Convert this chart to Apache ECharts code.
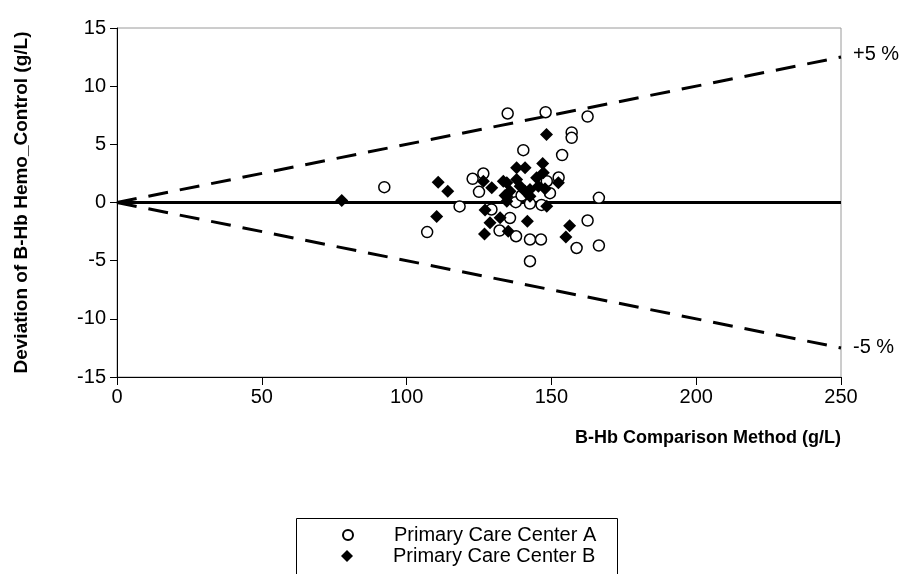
<!DOCTYPE html>
<html>
<head>
<meta charset="utf-8">
<script src="https://cdn.jsdelivr.net/npm/echarts@6/dist/echarts.min.js"></script>
<style>
  html, body { margin: 0; padding: 0; background: #fff; }
  #chart { width: 911px; height: 574px; }
</style>
</head>
<body>
<div id="chart"></div>
<script>
// Primary Care Center A: [comparison method g/L, deviation g/L]
const centerA = [
  [92.3, 1.32], [107.1, -2.54], [118.3, -0.34], [122.8, 2.04], [125.0, 0.92],
  [126.5, 2.49], [129.3, -0.6], [132.1, -2.41], [134.9, 7.65], [135.7, -1.33],
  [137.8, -2.9], [137.7, 0.03], [139.7, 0.6], [140.3, 4.5], [142.6, -3.18],
  [142.6, -0.09], [142.6, -5.05], [146.4, -3.18], [146.6, -0.21], [148.0, 7.76],
  [148.4, 1.83], [149.5, 0.8], [152.5, 2.15], [153.7, 4.08], [157.0, 6.02],
  [157.0, 5.56], [158.7, -3.91], [162.5, 7.39], [162.5, -1.55], [166.4, 0.4],
  [166.4, -3.7]
]

// Primary Care Center B
const centerB = [
  [77.6, 0.17], [110.9, 1.75], [114.2, 0.97], [110.4, -1.2], [126.5, 1.83],
  [129.4, 1.26], [127.1, -0.64], [126.9, -2.71], [128.8, -1.75], [132.3, -1.32],
  [135.1, -2.47], [134.0, 0.6], [134.6, 1.69], [135.7, 0.97], [138.0, 2.98],
  [139.2, 1.4], [140.9, 2.98], [142.6, 1.12], [141.7, -1.61], [144.9, 2.12],
  [145.5, 1.4], [147.0, 3.35], [147.2, 2.55], [147.8, 1.18], [148.3, 5.85],
  [148.4, -0.32], [152.4, 1.69], [156.3, -2.0], [155.0, -2.97], [134.6, 0.11],
  [133.4, 1.83], [138.0, 1.98], [140.9, 0.97], [142.6, 0.54], [134.6, 0.54]
]

// reference lines: zero and +/-5 % limits
const limitX = [0, 250]
const zeroLine = [0, 0]
const upperLimit = [0, 12.5]
const lowerLimit = [0, -12.5]

const xTicks = [0, 50, 100, 150, 200, 250]
const yTicks = [-15, -10, -5, 0, 5, 10, 15]

const FONT = '"Liberation Sans", Arial, sans-serif'
const pairs = (ys) => limitX.map((x, i) => [x, ys[i]])

const chart = echarts.init(document.getElementById('chart'))

const legendText = (pad) => ({ fontSize: 20, color: '#000', fontFamily: FONT, lineHeight: 20, padding: [0, 0, 0, pad] })

const option = {
    animation: false,
    textStyle: { fontFamily: FONT, color: '#000' },
    grid: {
        left: 117,
        right: 70,
        top: 28,
        bottom: 197,
        show: true,
        borderColor: '#9a9a9a',
        borderWidth: 1
    },
    xAxis: {
        type: 'value',
        min: xTicks[0],
        max: xTicks[xTicks.length - 1],
        interval: 50,
        name: 'B-Hb Comparison Method (g/L)',
        nameLocation: 'end',
        nameGap: 0,
        nameTextStyle: {
            fontFamily: FONT,
            fontSize: 18,
            fontWeight: 'bold',
            color: '#000',
            align: 'right',
            verticalAlign: 'top',
            padding: [52, 0, 0, 0]
        },
        axisLine: { show: true, onZero: false, lineStyle: { color: '#000', width: 1 } },
        axisTick: { show: true, length: 8, lineStyle: { color: '#000' } },
        axisLabel: { fontSize: 20, color: '#000', margin: 10, fontFamily: FONT },
        splitLine: { show: false }
    },
    yAxis: {
        type: 'value',
        min: yTicks[0],
        max: yTicks[yTicks.length - 1],
        interval: 5,
        name: 'Deviation of B-Hb Hemo_Control (g/L)',
        nameLocation: 'middle',
        nameGap: 86,
        nameTextStyle: {
            fontFamily: FONT,
            fontSize: 19,
            fontWeight: 'bold',
            color: '#000'
        },
        axisLine: { show: true, onZero: false, lineStyle: { color: '#000', width: 1 } },
        axisTick: { show: true, length: 7, lineStyle: { color: '#000' } },
        axisLabel: { fontSize: 20, color: '#000', margin: 11, fontFamily: FONT },
        splitLine: { show: false }
    },
    legend: [
        {
            data: ['Primary Care Center A'],
            left: 342,
            top: 525,
            padding: 0,
            itemWidth: 10,
            itemHeight: 10,
            textStyle: legendText(36)
        },
        {
            data: ['Primary Care Center B'],
            left: 341,
            top: 546,
            padding: 0,
            itemWidth: 12,
            itemHeight: 12,
            textStyle: legendText(35)
        }
    ],
    graphic: [
        {
            type: 'rect',
            left: 294,
            top: 516,
            shape: { width: 321, height: 70 },
            style: { fill: 'none', stroke: '#000', lineWidth: 1 },
            z: 10
        }
    ],
    series: [
        {
            name: 'zero',
            type: 'line',
            data: pairs(zeroLine),
            symbol: 'none',
            lineStyle: { color: '#000', width: 3 },
            z: 2
        },
        {
            name: '+5 %',
            type: 'line',
            data: pairs(upperLimit),
            symbol: 'none',
            lineStyle: { color: '#000', width: 3, type: [20, 12] },
            endLabel: {
                show: true,
                formatter: '+5 %',
                fontSize: 20,
                color: '#000',
                fontFamily: FONT,
                distance: 12,
                offset: [0, -3]
            },
            z: 2
        },
        {
            name: '-5 %',
            type: 'line',
            data: pairs(lowerLimit),
            symbol: 'none',
            lineStyle: { color: '#000', width: 3, type: [20, 12] },
            endLabel: {
                show: true,
                formatter: '-5 %',
                fontSize: 20,
                color: '#000',
                fontFamily: FONT,
                distance: 12,
                offset: [0, 0]
            },
            z: 2
        },
        {
            name: 'Primary Care Center A',
            type: 'scatter',
            data: centerA,
            symbol: 'circle',
            symbolSize: 11,
            itemStyle: { color: '#fff', borderColor: '#000', borderWidth: 1.5, opacity: 1 },
            z: 4
        },
        {
            name: 'Primary Care Center B',
            type: 'scatter',
            data: centerB,
            symbol: 'diamond',
            symbolSize: 13,
            itemStyle: { color: '#000', borderColor: '#000', borderWidth: 0, opacity: 1 },
            z: 5
        }
    ]
}

chart.setOption(option)
</script>
</body>
</html>
